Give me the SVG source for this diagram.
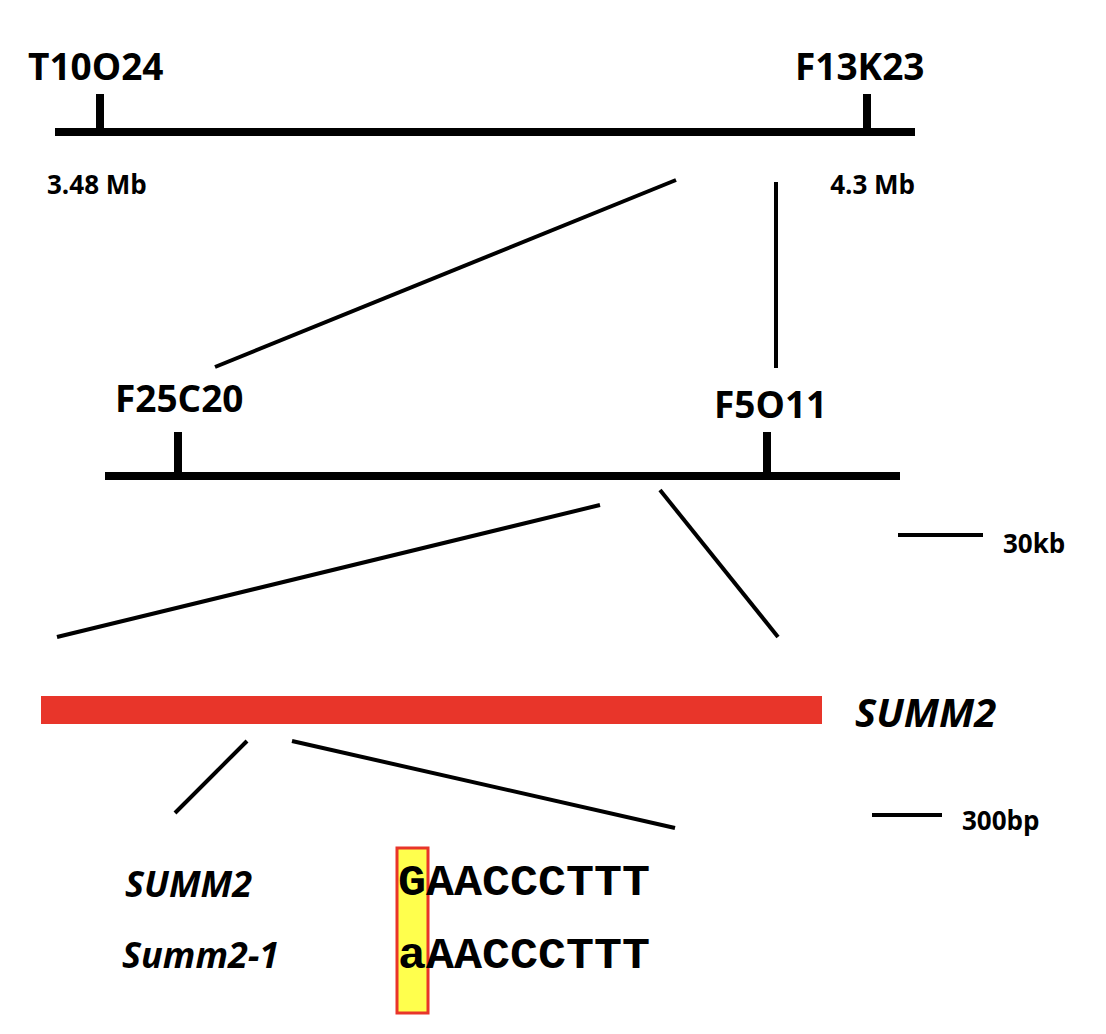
<svg xmlns="http://www.w3.org/2000/svg" width="1106" height="1034" viewBox="0 0 1106 1034">
<style>
.t{font-family:"Open Sans","Liberation Sans",sans-serif;font-weight:bold;fill:#000}
.bar{stroke:#000;stroke-width:8}
.c{stroke:#000;stroke-width:4}
.seq{font-family:"Liberation Mono",monospace;font-weight:bold;font-size:44px}
</style>
<rect width="1106" height="1034" fill="#fff"/>
<g id="map1">
<line class="bar" x1="55" y1="132" x2="915" y2="132"/>
<line class="bar" x1="100" y1="94" x2="100" y2="132"/>
<line class="bar" x1="867" y1="94" x2="867" y2="132"/>
<text class="t" x="28" y="80" font-size="37">T10O24</text>
<text class="t" x="795" y="80" font-size="37">F13K23</text>
<text class="t" x="47" y="194" font-size="26">3.48 Mb</text>
<text class="t" x="915" y="194" font-size="26" text-anchor="end">4.3 Mb</text>
</g>
<g id="map2">
<line class="bar" x1="105" y1="476" x2="900" y2="476"/>
<line class="bar" x1="178" y1="432" x2="178" y2="476"/>
<line class="bar" x1="767" y1="432" x2="767" y2="476"/>
<text class="t" x="115" y="412" font-size="37">F25C20</text>
<text class="t" x="714" y="418" font-size="37">F5O11</text>
</g>
<g id="scale1">
<line class="c" x1="898" y1="535" x2="983" y2="535"/>
<text class="t" x="1003" y="553" font-size="26">30kb</text>
</g>
<g id="gene">
<rect x="41" y="696" width="781" height="28" fill="#e8352a"/>
<text class="t" x="855" y="727" font-size="40" font-style="italic">SUMM2</text>
</g>
<g id="scale2">
<line class="c" x1="872" y1="815" x2="942" y2="815"/>
<text class="t" x="962" y="830" font-size="26">300bp</text>
</g>
<g id="connectors">
<line class="c" x1="676" y1="180" x2="215" y2="367"/>
<line class="c" x1="776" y1="182" x2="776" y2="368"/>
<line class="c" x1="600" y1="505" x2="57" y2="637"/>
<line class="c" x1="660" y1="490" x2="778" y2="637"/>
<line class="c" x1="247" y1="741" x2="175" y2="813"/>
<line class="c" x1="292" y1="741" x2="675" y2="828"/>
</g>
<g id="alignment">
<rect x="397" y="848" width="31" height="165" fill="#ffff4d" stroke="#e8352a" stroke-width="3"/>
<text class="t" x="125" y="897" font-size="36" font-style="italic">SUMM2</text>
<text class="t" x="122" y="968" font-size="36" font-style="italic">Summ2-1</text>
<text class="seq" x="398" y="895" textLength="252" lengthAdjust="spacingAndGlyphs">GAACCCTTT</text>
<text class="seq" x="398" y="968" textLength="252" lengthAdjust="spacingAndGlyphs">aAACCCTTT</text>
</g>
</svg>
